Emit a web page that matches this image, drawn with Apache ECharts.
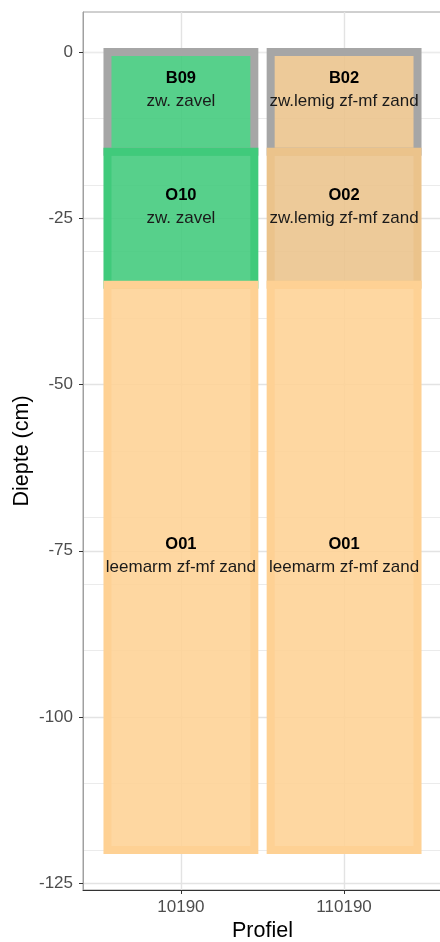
<!DOCTYPE html>
<html>
<head>
<meta charset="utf-8">
<title>Profiel</title>
<script src="https://cdn.jsdelivr.net/npm/echarts@6/dist/echarts.min.js"></script>
<style>
  html, body { margin: 0; padding: 0; background: #ffffff; overflow: hidden; }
  #chart { width: 440px; height: 942px; }
</style>
</head>
<body>
<div id="chart"></div>
<script>
// Profile names on the x axis
const profiles = ['10190', '110190'];

// Soil horizons, one entry per layer (x = profile index, 1-based)
const layerProfile = [1, 1, 1, 2, 2, 2];
const layerCode = ['B09', 'O10', 'O01', 'B02', 'O02', 'O01'];
const layerTexture = ['zw. zavel', 'zw. zavel', 'leemarm zf-mf zand',
                      'zw.lemig zf-mf zand', 'zw.lemig zf-mf zand', 'leemarm zf-mf zand'];
const layerTop = [0, -15, -35, 0, -15, -35];
const layerBottom = [-15, -35, -120, -15, -35, -120];

// Depth axis breaks
const depthTicks = [0, -25, -50, -75, -100, -125];
const depthMinorTicks = [0, -10, -20, -30, -40, -60, -70, -80, -90, -110, -120];

// Texture colours (stroke colour; fill is the same colour, slightly translucent)
const textureColor = {
  'zw. zavel': '#40CA7B',
  'leemarm zf-mf zand': '#FED194',
  'zw.lemig zf-mf zand': '#EBC38B'
};
const boundaryColor = '#A6A6A6';

const layers = layerCode.map((code, i) => [
  layerProfile[i], layerTop[i], layerBottom[i], code, layerTexture[i]
]);

const FONT = '"Liberation Sans", Arial, sans-serif';

const chart = echarts.init(document.getElementById('chart'), null, { renderer: 'canvas' });

chart.setOption({
  animation: false,
  backgroundColor: '#ffffff',
  grid: {
    left: 83, top: 12, width: 359, height: 878,
    show: true, borderColor: '#A0A0A0', borderWidth: 1,
    containLabel: false,
    outerBoundsMode: 'none'
  },
  xAxis: {
    type: 'value',
    min: 0.4, max: 2.6,
    name: 'Profiel',
    nameLocation: 'middle',
    nameGap: 30,
    nameMoveOverlap: false,
    nameTextStyle: { fontFamily: FONT, fontSize: 21.5, color: '#000000' },
    axisLine: { show: true, onZero: false, lineStyle: { color: '#333333', width: 1 } },
    axisTick: { show: true, length: 4, lineStyle: { color: '#333333' }, customValues: [1, 2] },
    axisLabel: {
      customValues: [1, 2],
      margin: 9,
      fontFamily: FONT, fontSize: 17, color: '#4D4D4D',
      formatter: v => profiles[Math.round(v) - 1] || ''
    },
    splitLine: { show: true, lineStyle: { color: '#E3E3E3', width: 1.4 } }
  },
  yAxis: [
    {
      type: 'value',
      min: -126, max: 6,
      name: 'Diepte (cm)',
      nameLocation: 'middle',
      nameGap: 50,
      nameRotate: 90,
      nameMoveOverlap: false,
      nameTextStyle: { fontFamily: FONT, fontSize: 21.5, color: '#000000' },
      axisLine: { show: true, onZero: false, lineStyle: { color: '#A0A0A0', width: 1 } },
      axisTick: { show: true, length: 4, lineStyle: { color: '#333333' }, customValues: depthTicks },
      axisLabel: {
        customValues: depthTicks,
        margin: 10,
        fontFamily: FONT, fontSize: 17, color: '#4D4D4D'
      },
      splitLine: { show: true, lineStyle: { color: '#E3E3E3', width: 1.4 } }
    },
    {
      // minor grid every 10 cm
      type: 'value',
      min: -126, max: 6,
      axisLine: { show: false },
      axisTick: { show: false, customValues: depthMinorTicks },
      axisLabel: { show: false, customValues: depthMinorTicks },
      splitLine: { show: true, lineStyle: { color: '#EBEBEB', width: 1 } }
    }
  ],
  series: [{
    type: 'custom',
    xAxisIndex: 0,
    yAxisIndex: 0,
    z: 10,
    data: layers,
    clip: false,
    renderItem: (params, api) => {
      const x = api.value(0);
      const top = api.value(1);
      const bottom = api.value(2);
      const code = layers[params.dataIndex][3];
      const texture = layers[params.dataIndex][4];
      const p0 = api.coord([x - 0.45, top]);
      const p1 = api.coord([x + 0.45, bottom]);
      const color = textureColor[texture];
      const stroke = code.charAt(0) === 'B' ? boundaryColor : color;
      const midX = (p0[0] + p1[0]) / 2;
      const midY = (p0[1] + p1[1]) / 2;
      return {
        type: 'group',
        children: [
          {
            type: 'rect',
            shape: { x: p0[0], y: p0[1], width: p1[0] - p0[0], height: p1[1] - p0[1] },
            style: { fill: echarts.color.modifyAlpha(color, 0.88), stroke: stroke, lineWidth: 8 }
          },
          {
            type: 'text',
            style: {
              x: midX, y: midY - 23, text: code,
              fontFamily: FONT, fontSize: 16.5, fontWeight: 'bold', fill: '#000000',
              align: 'center', verticalAlign: 'middle'
            }
          },
          {
            type: 'text',
            style: {
              x: midX, y: midY, text: texture,
              fontFamily: FONT, fontSize: 17, fill: '#1A1A1A',
              align: 'center', verticalAlign: 'middle'
            }
          }
        ]
      };
    }
  }]
});
</script>
</body>
</html>
